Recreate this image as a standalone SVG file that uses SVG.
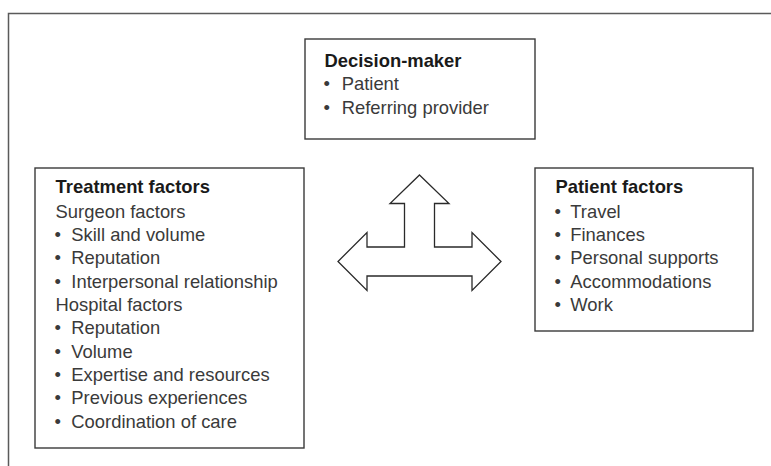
<svg xmlns="http://www.w3.org/2000/svg" width="771" height="466" viewBox="0 0 771 466">
<style>
.box{fill:#fff;stroke:#3a3a3a;stroke-width:1.4}
.frame{fill:none;stroke:#5a5a5a;stroke-width:1.5}
.t{font-family:"Liberation Sans",Arial,sans-serif;font-size:18.4px;fill:#3a3a3a}
.h{font-family:"Liberation Sans",Arial,sans-serif;font-size:18.4px;font-weight:bold;fill:#1a1a1a}
.arrow{fill:#fff;stroke:#2a2a2a;stroke-width:1.3;stroke-linejoin:miter}
</style>
<rect width="771" height="466" fill="#fff"/>
<path class="frame" d="M8.5,480 V13.5 H790"/>
<g id="decision-maker">
<rect class="box" x="305" y="39" width="230" height="100"/>
<text class="h" x="324.5" y="66.5">Decision-maker</text>
<text class="t" y="90"><tspan x="323.5">•</tspan><tspan x="341.7">Patient</tspan></text>
<text class="t" y="113.5"><tspan x="323.5">•</tspan><tspan x="341.7">Referring provider</tspan></text>
</g>
<g id="treatment-factors">
<rect class="box" x="35" y="168" width="269" height="280"/>
<text class="h" x="55.6" y="192.5">Treatment factors</text>
<text class="t" x="55.6" y="217.5">Surgeon factors</text>
<text class="t" y="240.5"><tspan x="54.6">•</tspan><tspan x="71.3">Skill and volume</tspan></text>
<text class="t" y="264"><tspan x="54.6">•</tspan><tspan x="71.3">Reputation</tspan></text>
<text class="t" y="287.5"><tspan x="54.6">•</tspan><tspan x="71.3">Interpersonal relationship</tspan></text>
<text class="t" x="55.6" y="311">Hospital factors</text>
<text class="t" y="334.3"><tspan x="54.6">•</tspan><tspan x="71.3">Reputation</tspan></text>
<text class="t" y="357.7"><tspan x="54.6">•</tspan><tspan x="71.3">Volume</tspan></text>
<text class="t" y="381"><tspan x="54.6">•</tspan><tspan x="71.3">Expertise and resources</tspan></text>
<text class="t" y="404.3"><tspan x="54.6">•</tspan><tspan x="71.3">Previous experiences</tspan></text>
<text class="t" y="427.7"><tspan x="54.6">•</tspan><tspan x="71.3">Coordination of care</tspan></text>
</g>
<g id="patient-factors">
<rect class="box" x="535" y="168" width="218" height="163"/>
<text class="h" x="555.5" y="192.5">Patient factors</text>
<text class="t" y="217.5"><tspan x="554.5">•</tspan><tspan x="570.3">Travel</tspan></text>
<text class="t" y="240.5"><tspan x="554.5">•</tspan><tspan x="570.3">Finances</tspan></text>
<text class="t" y="264"><tspan x="554.5">•</tspan><tspan x="570.3">Personal supports</tspan></text>
<text class="t" y="287.5"><tspan x="554.5">•</tspan><tspan x="570.3">Accommodations</tspan></text>
<text class="t" y="311"><tspan x="554.5">•</tspan><tspan x="570.3">Work</tspan></text>
</g>
<g id="connectors">
<path class="arrow" d="M419.5,175 L449,203.5 H434.5 V247 H472 V232.5 L501,261.5 L472,290.5 V276 H367 V290.5 L338,261.5 L367,232.5 V247 H404.5 V203.5 H390 Z"/>
</g>
</svg>
